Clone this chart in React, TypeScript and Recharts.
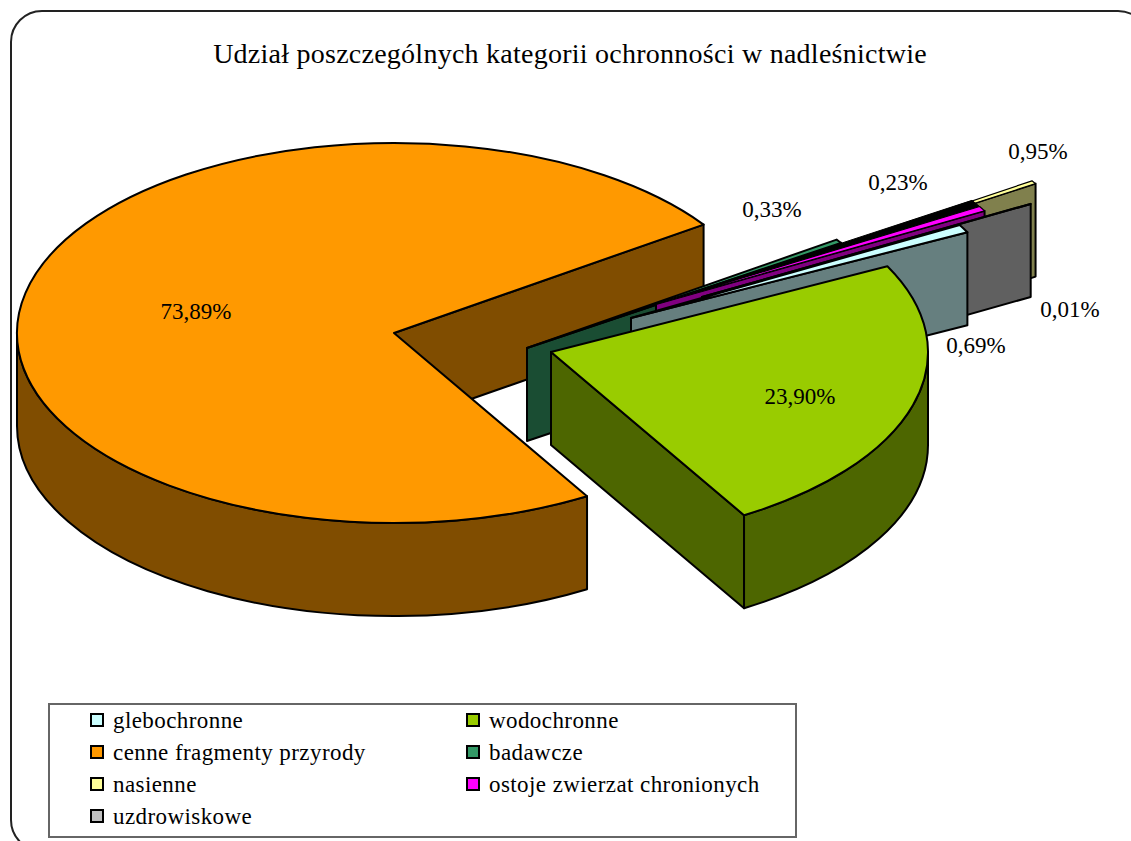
import React from 'react';
import { PieChart, Pie, Legend } from 'recharts';

const title = 'Udział poszczególnych kategorii ochronności w nadleśnictwie';
// Slices in back-to-front paint order; the pie turns clockwise from its start angle.
const categories = ['cenne fragmenty przyrody', 'badawcze', 'nasienne', 'ostoje zwierzat chronionych', 'uzdrowiskowe', 'glebochronne', 'wodochronne'];
const values = [73.89, 0.33, 0.95, 0.23, 0.01, 0.69, 23.9];
const valueLabels = ['73,89%', '0,33%', '0,95%', '0,23%', '0,01%', '0,69%', '23,90%'];
const topColors = ['#FF9900', '#339966', '#FFFF99', '#FF00FF', '#C0C0C0', '#CCFFFF', '#99CC00'];
const sideColors = ['#804D00', '#1A4D33', '#80804D', '#800080', '#606060', '#667F7F', '#4D6600'];
const legendRows = [
  ['glebochronne', 'wodochronne'],
  ['cenne fragmenty przyrody', 'badawcze'],
  ['nasienne', 'ostoje zwierzat chronionych'],
  ['uzdrowiskowe'],
];

// Layout of the exploded 3-D look
const CX = 540, CY = 350, RX = 377, SQUASH = 0.504, DEPTH = 93;
const START_ANGLE = -59.2;
const explode: [number, number][] = [[-146, -17], [-13, -2], [178, -64], [116, -46], [162, -53], [91, -32], [11, 2]];
const labelAt: [number, number][] = [[196, 311], [772, 209], [1038, 151], [898, 182], [1070, 309], [976, 345], [800, 396]];
// How the thin, mostly hidden slices show in the overlapped fan: drawn edge and visible sweep in degrees
const drawnSliver: Record<number, { anchor: 'start' | 'end'; sweep: number }> = {
  2: { anchor: 'start', sweep: 1 },
  3: { anchor: 'end', sweep: 1.5 },
};
const darkFan: Record<number, number> = { 3: 2.2 };

const chartData = categories.map((name, i) => ({ name, value: values[i], fill: topColors[i], idx: i }));

function SliceShape(p: any) {
  const idx = p.payload?.idx ?? p.idx ?? p.index;
  const rx = p.outerRadius, ry = rx * SQUASH;
  const cx = p.cx + explode[idx][0], cy = p.cy + explode[idx][1];
  let a = p.startAngle, b = p.endAngle;
  const sliver = drawnSliver[idx];
  if (sliver) {
    if (sliver.anchor === 'start') b = a - sliver.sweep;
    else a = b + sliver.sweep;
  }
  const pt = (t: number, d = 0) => {
    const r = (t * Math.PI) / 180;
    return [cx + rx * Math.cos(r), cy - ry * Math.sin(r) + d];
  };
  const [ax, ay] = pt(a), [bx, by] = pt(b);
  const large = Math.abs(a - b) > 180 ? 1 : 0;
  const top = `M${cx},${cy}L${ax},${ay}A${rx},${ry} 0 ${large} 1 ${bx},${by}Z`;
  const face = `M${cx},${cy}L${bx},${by}L${bx},${by + DEPTH}L${cx},${cy + DEPTH}Z`;
  const rims: string[] = [];
  for (const k of [0, -1]) {
    const s = Math.min(a, 360 * k), e = Math.max(b, -180 + 360 * k);
    if (s > e) {
      const [sx, sy] = pt(s), [ex, ey] = pt(e);
      rims.push(`M${sx},${sy}A${rx},${ry} 0 0 1 ${ex},${ey}L${ex},${ey + DEPTH}A${rx},${ry} 0 0 0 ${sx},${sy + DEPTH}Z`);
    }
  }
  const line = { stroke: '#000', strokeWidth: 2, strokeLinejoin: 'round' as const };
  const fan = darkFan[idx];
  const fanPt = fan ? pt(a + fan) : null;
  return (
    <g>
      {fanPt && <path d={`M${cx},${cy}L${fanPt[0]},${fanPt[1]}L${ax},${ay}Z`} fill="#000" stroke="#000" strokeWidth={1} />}
      {Math.cos((b * Math.PI) / 180) > 0 && <path d={face} fill={sideColors[idx]} {...line} />}
      {rims.map((d, i) => <path key={i} d={d} fill={sideColors[idx]} {...line} />)}
      <path d={top} fill={topColors[idx]} {...line} strokeWidth={sliver ? 1.2 : 2} />
    </g>
  );
}

function SliceLabel(p: any) {
  const idx = p.payload?.idx ?? p.index;
  return (
    <text x={labelAt[idx][0]} y={labelAt[idx][1]} textAnchor="middle" dominantBaseline="central"
      fontFamily="'Liberation Serif'" fontSize={23} fill="#000" stroke="none">
      {valueLabels[idx]}
    </text>
  );
}

const colorOf = (name: string) => topColors[categories.indexOf(name)];

function LegendBox() {
  return (
    <div style={{ position: 'absolute', left: 0, top: 0, width: 745, height: 131, border: '2px solid #666', background: '#fff', boxSizing: 'content-box', fontFamily: "'Liberation Serif'", fontSize: 23, color: '#000' }}>
      {legendRows.map((row, r) => row.map((name, c) => (
        <div key={name} style={{ position: 'absolute', left: c === 0 ? 40 : 416, top: 2 + r * 32, height: 28, lineHeight: '28px', whiteSpace: 'nowrap' }}>
          <span style={{ position: 'absolute', left: 0, top: 6, width: 10, height: 10, border: '2px solid #000', background: colorOf(name) }} />
          <span style={{ position: 'absolute', left: 23, letterSpacing: 0.42 }}>{name}</span>
        </div>
      )))}
    </div>
  );
}

export default function App() {
  return (
    <div style={{ position: 'absolute', left: 0, top: 0, width: 1131, height: 841, overflow: 'hidden', background: '#fff' }}>
      <div style={{ position: 'absolute', left: 10, top: 10, width: 1140, height: 842, border: '2px solid #222', borderRadius: 32, boxSizing: 'border-box' }} />
      <div style={{ position: 'absolute', left: 0, width: 1140, top: 38, textAlign: 'center', fontFamily: "'Liberation Serif'", fontSize: 28, letterSpacing: 0.25, lineHeight: '32px', color: '#000', whiteSpace: 'nowrap' }}>{title}</div>
      <PieChart width={1131} height={841} margin={{ top: 0, right: 0, bottom: 0, left: 0 }} style={{ position: 'absolute', left: 0, top: 0 }}>
        <Pie
          data={chartData}
          dataKey="value"
          nameKey="name"
          cx={CX}
          cy={CY}
          innerRadius={0}
          outerRadius={RX}
          startAngle={START_ANGLE}
          endAngle={START_ANGLE - 360}
          paddingAngle={0}
          isAnimationActive={false}
          shape={SliceShape}
          label={SliceLabel}
          labelLine={false}
        />
        <Legend content={LegendBox} wrapperStyle={{ position: 'absolute', left: 48, top: 703, width: 749, height: 135, bottom: 'auto' }} />
      </PieChart>
    </div>
  );
}
